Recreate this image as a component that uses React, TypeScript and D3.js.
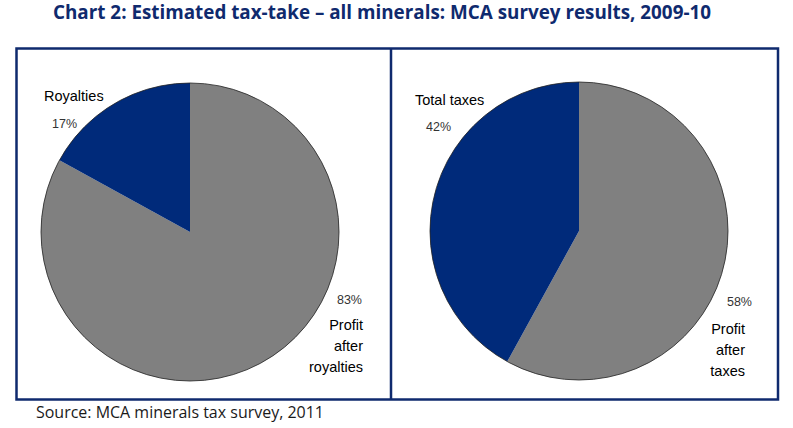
import { arc, pie, select } from 'd3'
import { useEffect, useRef } from 'react'

const TITLE = 'Chart 2: Estimated tax-take – all minerals: MCA survey results, 2009-10'
const SOURCE = 'Source: MCA minerals tax survey, 2011'

// left pie: royalties
const royaltyLabels = ['Profit after royalties', 'Royalties']
const royaltyValues = [83, 17]

// right pie: all taxes
const taxLabels = ['Profit after taxes', 'Total taxes']
const taxValues = [58, 42]

const sliceColors = ['#808080', '#002a7a']
const navy = '#0f2a6e'

interface PieSpec {
  labels: string[]
  values: number[]
  cx: number
  cy: number
  // text placement for the two slices
  smallName: { x: number; y: number }
  smallPct: { x: number; y: number }
  bigPct: { x: number; y: number }
  bigName: { x: number; y: number; lines: string[] }
}

const pies: PieSpec[] = [
  {
    labels: royaltyLabels,
    values: royaltyValues,
    cx: 190,
    cy: 232,
    smallName: { x: 44, y: 101 },
    smallPct: { x: 52, y: 128 },
    bigPct: { x: 362, y: 304 },
    bigName: { x: 363, y: 330, lines: ['Profit', 'after', 'royalties'] },
  },
  {
    labels: taxLabels,
    values: taxValues,
    cx: 579,
    cy: 231,
    smallName: { x: 415, y: 105 },
    smallPct: { x: 426, y: 131 },
    bigPct: { x: 752, y: 306 },
    bigName: { x: 745, y: 334, lines: ['Profit', 'after', 'taxes'] },
  },
]

export default function App() {
  const ref = useRef<SVGSVGElement>(null)

  useEffect(() => {
    if (!ref.current) return
    const svg = select(ref.current)
    svg.selectAll('*').remove()

    svg.append('rect').attr('width', 793).attr('height', 428).attr('fill', '#fff')

    svg
      .append('text')
      .attr('x', 53)
      .attr('y', 19)
      .attr('textLength', 658)
      .attr('lengthAdjust', 'spacingAndGlyphs')
      .attr('font-family', '"Open Sans", sans-serif')
      .attr('font-weight', 700)
      .attr('font-size', 19)
      .attr('fill', navy)
      .text(TITLE)

    // frame with a divider between the two pies
    svg
      .append('rect')
      .attr('x', 16.5)
      .attr('y', 48.5)
      .attr('width', 761.5)
      .attr('height', 351)
      .attr('fill', 'none')
      .attr('stroke', navy)
      .attr('stroke-width', 2.5)
    svg
      .append('line')
      .attr('x1', 391)
      .attr('x2', 391)
      .attr('y1', 48.5)
      .attr('y2', 399.5)
      .attr('stroke', navy)
      .attr('stroke-width', 2.5)

    const radius = 149
    const layout = pie<number>().sort(null)
    const slice = arc<any>().innerRadius(0).outerRadius(radius)

    pies.forEach((p) => {
      const g = svg.append('g').attr('transform', `translate(${p.cx}, ${p.cy})`)
      g.selectAll('path')
        .data(layout(p.values))
        .join('path')
        .attr('d', slice)
        .attr('fill', (_, i) => sliceColors[i])
      g.append('circle').attr('r', radius).attr('fill', 'none').attr('stroke', '#222').attr('stroke-width', 0.8)

      const label = (x: number, y: number, t: string, anchor: string, fill: string, size: number) =>
        svg
          .append('text')
          .attr('x', x)
          .attr('y', y)
          .attr('text-anchor', anchor)
          .attr('font-family', '"Liberation Sans", Arial, sans-serif')
          .attr('font-size', size)
          .attr('fill', fill)
          .text(t)

      label(p.smallName.x, p.smallName.y, p.labels[1], 'start', '#000', 14.5)
      label(p.smallPct.x, p.smallPct.y, `${p.values[1]}%`, 'start', '#333', 12.5)
      label(p.bigPct.x, p.bigPct.y, `${p.values[0]}%`, 'end', '#333', 12.5)
      p.bigName.lines.forEach((line, i) => label(p.bigName.x, p.bigName.y + i * 21, line, 'end', '#000', 14.5))
    })

    svg
      .append('text')
      .attr('x', 36)
      .attr('y', 418)
      .attr('textLength', 288)
      .attr('lengthAdjust', 'spacingAndGlyphs')
      .attr('font-family', '"Open Sans", sans-serif')
      .attr('font-size', 15.5)
      .attr('fill', '#1a1a1a')
      .text(SOURCE)
  }, [])

  return (
    <svg
      ref={ref}
      width={793}
      height={428}
      style={{ position: 'absolute', left: 0, top: 0, display: 'block' }}
    />
  )
}
